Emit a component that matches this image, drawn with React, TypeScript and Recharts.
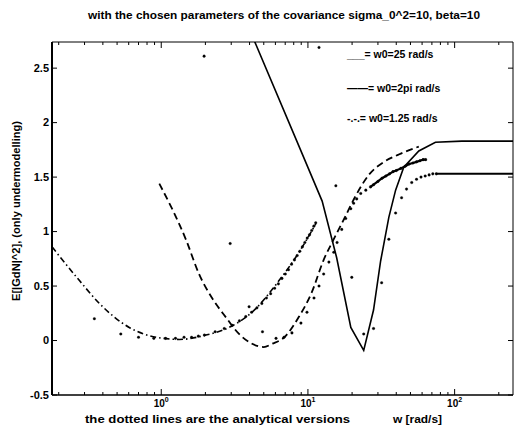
import { LineChart, Line, XAxis, YAxis } from "recharts";

// simulated curves (w in rad/s, E[|GdN|^2])
const W_SOLID_25 = [4.16, 8.4, 12.5, 15.7, 19.6, 24, 28, 31.3, 35.6, 39.6, 45, 57, 74, 112, 250];
const E_SOLID_25 = [2.8, 1.83, 1.28, 0.76, 0.12, -0.09, 0.28, 0.73, 1.13, 1.38, 1.59, 1.74, 1.82, 1.83, 1.83];

const W_DASH_2PI = [0.97, 1.48, 1.81, 2.22, 2.77, 3.39, 4.16, 5.0, 5.7, 6.9, 8.7, 10.6, 12.8, 15.0, 17.7, 21, 26, 33, 42, 57];
const E_DASH_2PI = [1.44, 0.92, 0.61, 0.39, 0.21, 0.06, -0.03, -0.06, -0.03, 0.03, 0.22, 0.44, 0.74, 0.93, 1.12, 1.32, 1.52, 1.64, 1.71, 1.78];

const W_DASHDOT_125 = [0.18, 0.277, 0.379, 0.605, 0.925, 1.33, 2.02, 2.9, 4.16, 6.35, 8.5, 11.3];
const E_DASHDOT_125 = [0.86, 0.55, 0.34, 0.12, 0.03, 0.01, 0.05, 0.12, 0.26, 0.55, 0.79, 1.07];

// analytical versions (dots)
const W_DOT_125 = [0.35, 0.53, 0.7, 0.89, 1.07, 1.25, 1.43, 1.61, 1.79, 1.97, 2.33, 2.69, 3.05, 3.41, 3.77, 4.13, 4.49, 4.85, 5.21, 5.57, 5.93, 6.29, 6.65, 7.01, 7.37, 7.73, 8.09, 8.45, 8.81, 9.17, 9.53, 9.89, 10.25, 10.61, 10.97, 11.3];
const E_DOT_125 = [0.2, 0.06, 0.03, 0.02, 0.02, 0.02, 0.03, 0.03, 0.04, 0.05, 0.08, 0.11, 0.14, 0.18, 0.22, 0.26, 0.3, 0.34, 0.39, 0.43, 0.48, 0.52, 0.57, 0.61, 0.65, 0.7, 0.74, 0.78, 0.82, 0.86, 0.9, 0.94, 0.97, 1.01, 1.05, 1.08];

const W_DOT_2PI = [1.96, 2.95, 3.97, 4.9, 6.06, 6.87, 7.78, 8.96, 9.85, 11.0, 11.9, 12.8, 13.9, 15.0, 15.8, 17.0, 18.1, 19.6, 20.5, 21.5, 22.9, 24.8, 26.7, 28, 30, 32, 34, 36, 38, 40, 43, 46, 49, 52, 55, 58, 61, 63.5];
const E_DOT_2PI = [2.61, 0.89, 0.31, 0.08, 0.02, 0.03, 0.07, 0.16, 0.26, 0.39, 0.5, 0.61, 0.72, 0.81, 0.9, 1.02, 1.12, 1.21, 1.26, 1.3, 1.35, 1.38, 1.41, 1.43, 1.46, 1.49, 1.51, 1.53, 1.55, 1.56, 1.58, 1.6, 1.62, 1.63, 1.64, 1.65, 1.66, 1.66];

const W_DOT_25 = [11.9, 15.5, 19.9, 24, 28, 31.8, 35.6, 39.6, 43.5, 47, 51, 55, 59, 63, 67, 71, 75];
const E_DOT_25 = [2.69, 1.42, 0.58, 0.06, 0.11, 0.53, 0.93, 1.17, 1.31, 1.39, 1.45, 1.48, 1.5, 1.51, 1.52, 1.53, 1.53];
const W_DOT_25_FLAT = [75, 250];
const E_DOT_25_FLAT = [1.53, 1.53];

const X_TICKS = [0.2, 0.3, 0.4, 0.5, 0.6, 0.7, 0.8, 0.9, 1, 2, 3, 4, 5, 6, 7, 8, 9, 10, 20, 30, 40, 50, 60, 70, 80, 90, 100, 200];
const X_MAJOR = [1, 10, 100];
const Y_TICKS = [-0.5, 0, 0.5, 1, 1.5, 2, 2.5];

const zip = (w: number[], e: number[]) => w.map((x, i) => ({ w: x, e: e[i] }));

const solid25 = zip(W_SOLID_25, E_SOLID_25);
const dash2pi = zip(W_DASH_2PI, E_DASH_2PI);
const dashdot125 = zip(W_DASHDOT_125, E_DASHDOT_125);
const dot125 = zip(W_DOT_125, E_DOT_125);
const dot2pi = zip(W_DOT_2PI, E_DOT_2PI);
const dot2piDense = dot2pi.filter((p) => p.w >= 26.7);
const dot25 = zip(W_DOT_25, E_DOT_25);
const dot25Flat = zip(W_DOT_25_FLAT, E_DOT_25_FLAT);

const FONT = "'Liberation Sans', Arial, Helvetica, sans-serif";
const dotStyle = { r: 1.3, fill: "#000", stroke: "#000", strokeWidth: 0.3 };

function BottomTick({ x, y, payload }: any) {
  const v = payload.value;
  const major = X_MAJOR.includes(v);
  return (
    <g>
      <line x1={x} x2={x} y1={y} y2={y - (major ? 6 : 3)} stroke="#000" strokeWidth={1} />
      {major && (
        <text x={x} y={y + 12} textAnchor="middle" fontSize={10} fontWeight="bold" fontFamily={FONT} fill="#000">
          10<tspan dy={-5} fontSize={7}>{Math.round(Math.log10(v))}</tspan>
        </text>
      )}
    </g>
  );
}

function TopTick({ x, y, payload }: any) {
  const major = X_MAJOR.includes(payload.value);
  return <line x1={x} x2={x} y1={y} y2={y + (major ? 6 : 3)} stroke="#000" strokeWidth={1} />;
}

function LeftTick({ x, y, payload }: any) {
  return (
    <g>
      <line x1={x} x2={x + 5} y1={y} y2={y} stroke="#000" strokeWidth={1} />
      <text x={x - 3} y={y + 3.5} textAnchor="end" fontSize={11} fontWeight="bold" fontFamily={FONT} fill="#000">
        {payload.value}
      </text>
    </g>
  );
}

function RightTick({ x, y }: any) {
  return <line x1={x} x2={x - 5} y1={y} y2={y} stroke="#000" strokeWidth={1} />;
}

export default function App() {
  return (
    <div style={{ position: "absolute", left: 0, top: 0, width: 514, height: 432, background: "#fff" }}>
      <LineChart width={514} height={432} margin={{ top: 41, right: 0, bottom: 0, left: 0 }}>
        <XAxis
          dataKey="w"
          type="number"
          scale="log"
          domain={[0.18, 250]}
          allowDataOverflow
          ticks={X_TICKS}
          interval={0}
          height={37}
          tickSize={0}
          tickMargin={0}
          tick={<BottomTick />}
          axisLine={{ stroke: "#000", strokeWidth: 1.5 }}
        />
        <XAxis
          xAxisId="top"
          orientation="top"
          dataKey="w"
          type="number"
          scale="log"
          domain={[0.18, 250]}
          allowDataOverflow
          ticks={X_TICKS}
          interval={0}
          height={1}
          tickSize={0}
          tickMargin={0}
          tick={<TopTick />}
          axisLine={{ stroke: "#000", strokeWidth: 1 }}
        />
        <YAxis
          dataKey="e"
          type="number"
          domain={[-0.5, 2.74]}
          allowDataOverflow
          ticks={Y_TICKS}
          interval={0}
          width={52}
          tickSize={0}
          tickMargin={0}
          tick={<LeftTick />}
          axisLine={{ stroke: "#000", strokeWidth: 2 }}
        />
        <YAxis
          yAxisId="right"
          orientation="right"
          dataKey="e"
          type="number"
          domain={[-0.5, 2.74]}
          allowDataOverflow
          ticks={Y_TICKS}
          interval={0}
          width={1}
          tickSize={0}
          tickMargin={0}
          tick={<RightTick />}
          axisLine={{ stroke: "#000", strokeWidth: 1 }}
        />

        <Line data={dot125} dataKey="e" stroke="none" dot={dotStyle} isAnimationActive={false} />
        <Line data={dot2pi} dataKey="e" stroke="none" dot={dotStyle} isAnimationActive={false} />
        <Line data={dot2piDense} dataKey="e" stroke="#000" strokeWidth={2.2} dot={false} isAnimationActive={false} />
        <Line data={dot25} dataKey="e" stroke="none" dot={dotStyle} isAnimationActive={false} />
        <Line data={dot25Flat} dataKey="e" stroke="#000" strokeWidth={2} dot={false} isAnimationActive={false} />

        <Line data={solid25} dataKey="e" type="linear" stroke="#000" strokeWidth={1.6} dot={false} isAnimationActive={false} />
        <Line data={dash2pi} dataKey="e" type="monotone" stroke="#000" strokeWidth={1.8} strokeDasharray="7 4" dot={false} isAnimationActive={false} />
        <Line data={dashdot125} dataKey="e" type="monotone" stroke="#000" strokeWidth={1.6} strokeDasharray="6 3 1.5 3" dot={false} isAnimationActive={false} />
      </LineChart>

      <svg width={514} height={432} style={{ position: "absolute", left: 0, top: 0, pointerEvents: "none" }} fontFamily={FONT} fontWeight="bold" fill="#000">
        <text x={88} y={19} fontSize={11} textLength={392} lengthAdjust="spacingAndGlyphs">
          with the chosen parameters of the covariance sigma_0^2=10, beta=10
        </text>
        <text transform="translate(20,211) rotate(-90)" textAnchor="middle" fontSize={11} textLength={180} lengthAdjust="spacingAndGlyphs">
          E[|GdN|^2], (only undermodelling)
        </text>
        <text x={85} y={423} fontSize={11} textLength={265} lengthAdjust="spacingAndGlyphs">
          the dotted lines are the analytical versions
        </text>
        <text x={393} y={423} fontSize={11} textLength={49} lengthAdjust="spacingAndGlyphs">
          w [rad/s]
        </text>
        <text x={347} y={58} fontSize={10.5}>
          ___= w0=25 rad/s
        </text>
        <text x={347} y={92} fontSize={10.5}>
          ——= w0=2pi rad/s
        </text>
        <text x={347} y={122} fontSize={10.5}>
          -.-.= w0=1.25 rad/s
        </text>
      </svg>
    </div>
  );
}
